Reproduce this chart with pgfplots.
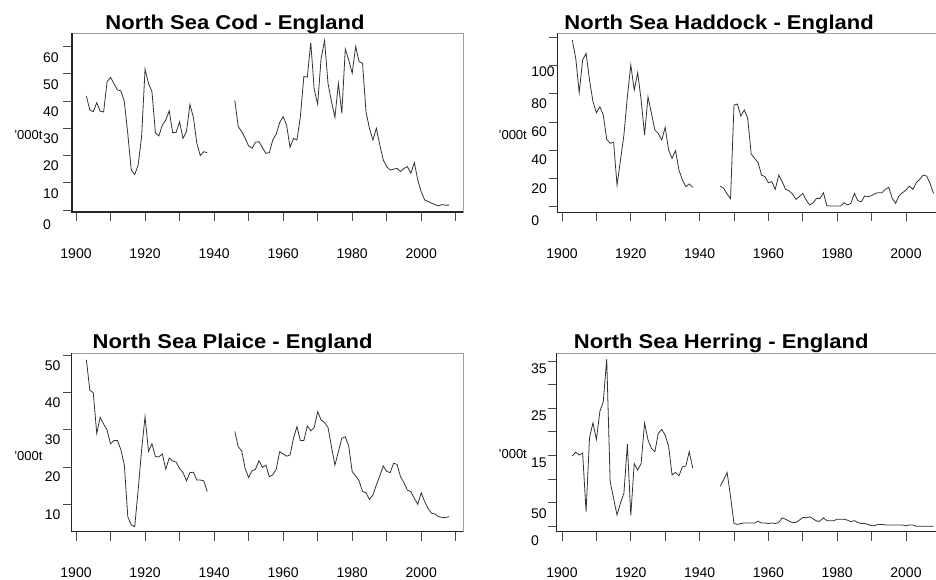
\documentclass[border=0pt]{standalone}
\usepackage{fontspec}
\setmainfont{Liberation Sans}
\usepackage{graphicx}
\usepackage{pgfplots}
\pgfplotsset{compat=1.18}

\newcommand\tickfont{\fontsize{14bp}{16bp}\selectfont}
\newcommand\unitfont{\fontsize{13bp}{15bp}\selectfont}
\newcommand\titlefont{\fontsize{20bp}{24bp}\selectfont\bfseries}

\pgfplotsset{
  fishpanel/.style={
    scale only axis, clip=false,
    axis line style={draw=gray!75, line width=0.8bp},
    tick pos=left, tick align=outside,
    major tick length=9bp,
    tick style={draw=gray!60!black, line width=0.8bp},
    xtick={1900,1910,...,2010},
    xticklabels={1900,,1920,,1940,,1960,,1980,,2000,},
    xticklabel style={anchor=base, inner sep=0pt, yshift=-37bp, font=\tickfont},
    yticklabel style={anchor=base west, inner sep=0pt, font=\tickfont},
    title style={font=\titlefont, anchor=base, inner sep=0pt},
    ylabel={'000t},
    ylabel style={rotate=-90, anchor=west, inner sep=0pt, font=\unitfont},
  },
  catch/.style={draw=black!80, line width=0.8bp, mark=none},
}
\tikzset{axframe/.style={black!85, line width=1.1bp}}

\begin{document}
\begin{tikzpicture}

% North Sea Cod
\begin{axis}[fishpanel,
  at={(72bp,-212bp)}, anchor=south west,
  width=391bp, height=179bp,
  xmin=1898.84, xmax=2012.1, ymin=-0.73, ymax=65,
  ytick={0,10,...,60},
  yticklabels={\raisebox{-4bp}{0},10,20,30,40,50,60},
  yticklabel style={xshift=-20bp, yshift=-15.4bp},
  title={\scalebox{1.1}[1]{North Sea Cod - England}},
  title style={at={(axis description cs:0.417,1)}, yshift=-2bp},
  ylabel style={at={(axis description cs:-0.148,0.43)}},
]
\addplot[catch] coordinates {
(1903,41.9)(1904,36.7)(1905,36.1)(1906,39.4)(1907,36.3)(1908,36.0)(1909,47.1)
(1910,48.7)(1911,46.4)(1912,44.1)(1913,43.8)(1914,39.8)(1915,28.0)(1916,14.7)
(1917,13.0)(1918,16.5)(1919,26.9)(1920,51.7)(1921,46.5)(1922,43.5)(1923,28.4)
(1924,27.2)(1925,31.2)(1926,33.0)(1927,36.4)(1928,28.4)(1929,28.5)(1930,32.4)
(1931,26.3)(1932,28.8)(1933,38.8)(1934,34.0)(1935,24.5)(1936,20.0)(1937,21.4)
(1938,21.1)
};
\addplot[catch] coordinates {
(1946,40.2)(1947,30.6)(1948,28.8)(1949,26.3)(1950,23.5)(1951,22.7)(1952,24.9)
(1953,25.1)(1954,22.9)(1955,20.8)(1956,21.1)(1957,25.7)(1958,27.9)(1959,32.1)
(1960,34.3)(1961,31.2)(1962,23.0)(1963,26.3)(1964,25.7)(1965,34.3)(1966,49.0)
(1967,48.8)(1968,61.5)(1969,44.3)(1970,38.9)(1971,55.7)(1972,62.2)(1973,46.5)
(1974,39.8)(1975,34.0)(1976,46.5)(1977,35.5)(1978,59.1)(1979,55.1)(1980,50.2)
(1981,60.0)(1982,54.5)(1983,53.9)(1984,36.1)(1985,30.0)(1986,25.7)(1987,30.0)
(1988,23.9)(1989,18.4)(1990,15.9)(1991,14.7)(1992,15.0)(1993,15.3)(1994,14.1)
(1995,15.3)(1996,15.9)(1997,13.5)(1998,17.4)(1999,11.0)(2000,6.7)(2001,3.7)
(2002,3.1)(2003,2.5)(2004,2.0)(2005,1.5)(2006,2.0)(2007,1.8)(2008,1.8)
};
\draw[axframe] (rel axis cs:0,1) -- (rel axis cs:0,0) -- (rel axis cs:1,0);
\end{axis}

% North Sea Haddock
\begin{axis}[fishpanel,
  at={(557.7bp,-212.3bp)}, anchor=south west,
  width=389.9bp, height=179bp,
  xmin=1898.75, xmax=2012.1, ymin=-3.97, ymax=122.8,
  ytick={0,20,...,120},
  yticklabels={\raisebox{-4.5bp}{0},20,40,60,80,\raisebox{3.6bp}{100},},
  yticklabel style={xshift=-17.5bp, yshift=-14.6bp},
  title={\scalebox{1.1}[1]{North Sea Haddock - England}},
  title style={at={(axis description cs:0.414,1)}, yshift=-1.7bp},
  ylabel style={at={(axis description cs:-0.152,0.432)}},
]
\addplot[catch] coordinates {
(1903,118)(1904,105)(1905,80.8)(1906,103.9)(1907,108.6)(1908,89.7)(1909,74.4)
(1910,66.6)(1911,70.8)(1912,64.9)(1913,47.7)(1914,44.9)(1915,45.6)(1916,15.3)
(1917,33.0)(1918,50.8)(1919,77.9)(1920,100.4)(1921,82.6)(1922,94.9)(1923,75.6)
(1924,50.8)(1925,77.9)(1926,66.1)(1927,54.3)(1928,51.9)(1929,47.2)(1930,56.2)
(1931,40.1)(1932,34.2)(1933,39.7)(1934,26.0)(1935,18.9)(1936,14.2)(1937,16.1)
(1938,13.7)
};
\addplot[catch] coordinates {
(1946,14.6)(1947,13.0)(1948,9.0)(1949,5.7)(1950,72.0)(1951,72.7)(1952,64.2)
(1953,68.5)(1954,62.6)(1955,37.3)(1956,34.2)(1957,31.4)(1958,22.4)(1959,21.3)
(1960,17.0)(1961,17.7)(1962,12.3)(1963,22.4)(1964,17.7)(1965,12.3)(1966,11.3)
(1967,9.0)(1968,5.2)(1969,7.1)(1970,9.4)(1971,4.7)(1972,1.2)(1973,2.8)
(1974,5.9)(1975,5.9)(1976,9.9)(1977,0.7)(1978,0.5)(1979,0.5)(1980,0.5)
(1981,0.5)(1982,2.8)(1983,1.2)(1984,2.4)(1985,9.4)(1986,4.3)(1987,3.5)
(1988,7.6)(1989,7.1)(1990,7.8)(1991,9.4)(1992,9.9)(1993,9.9)(1994,12.3)
(1995,13.7)(1996,5.9)(1997,2.4)(1998,7.8)(1999,9.9)(2000,11.8)(2001,14.6)
(2002,12.3)(2003,17.0)(2004,19.4)(2005,22.4)(2006,21.7)(2007,16.5)(2008,9.4)
};
\draw[axframe] (rel axis cs:0,1) -- (rel axis cs:0,0) -- (rel axis cs:1,0);
\end{axis}

% North Sea Plaice
\begin{axis}[fishpanel,
  at={(71.7bp,-531.7bp)}, anchor=south west,
  width=391.6bp, height=178.4bp,
  xmin=1898.75, xmax=2012.19, ymin=2.66, ymax=50.46,
  ytick={10,20,...,50},
  yticklabels={10,20,30,40,50},
  yticklabel style={xshift=-18bp, yshift=-15bp},
  title={\scalebox{1.1}[1]{North Sea Plaice - England}},
  title style={at={(axis description cs:0.411,1)}, yshift=-1bp},
  ylabel style={at={(axis description cs:-0.147,0.426)}},
]
\addplot[catch] coordinates {
(1903,48.7)(1904,40.6)(1905,39.9)(1906,29.0)(1907,33.3)(1908,31.5)(1909,29.9)
(1910,26.2)(1911,27.1)(1912,27.1)(1913,24.6)(1914,20.5)(1915,6.7)(1916,4.5)
(1917,4.0)(1918,13.8)(1919,24.6)(1920,33.5)(1921,24.2)(1922,26.2)(1923,22.8)
(1924,22.7)(1925,23.5)(1926,19.4)(1927,22.4)(1928,21.6)(1929,21.3)(1930,19.6)
(1931,18.5)(1932,16.3)(1933,18.5)(1934,18.6)(1935,16.5)(1936,16.5)(1937,16.3)
(1938,13.4)
};
\addplot[catch] coordinates {
(1946,29.5)(1947,25.4)(1948,24.3)(1949,19.6)(1950,17.2)(1951,19.0)(1952,19.4)
(1953,21.7)(1954,19.9)(1955,20.5)(1956,17.4)(1957,17.9)(1958,19.4)(1959,24.1)
(1960,23.5)(1961,22.9)(1962,23.2)(1963,27.7)(1964,30.8)(1965,27.1)(1966,27.1)
(1967,31.0)(1968,29.7)(1969,30.6)(1970,34.8)(1971,32.6)(1972,31.9)(1973,30.6)
(1974,25.4)(1975,20.5)(1976,24.1)(1977,27.7)(1978,28.1)(1979,25.6)(1980,18.8)
(1981,17.6)(1982,16.3)(1983,13.4)(1984,13.1)(1985,11.3)(1986,12.5)(1987,15.2)
(1988,17.6)(1989,20.3)(1990,18.8)(1991,18.5)(1992,21.0)(1993,20.7)(1994,17.4)
(1995,15.8)(1996,13.8)(1997,13.4)(1998,11.6)(1999,10.0)(2000,13.1)(2001,10.7)
(2002,8.9)(2003,7.6)(2004,7.4)(2005,6.7)(2006,6.5)(2007,6.4)(2008,6.7)
};
\draw[axframe] (rel axis cs:0,1) -- (rel axis cs:0,0) -- (rel axis cs:1,0);
\end{axis}

% North Sea Herring
\begin{axis}[fishpanel,
  at={(556.7bp,-531.7bp)}, anchor=south west,
  width=390.9bp, height=178.4bp,
  xmin=1898.46, xmax=2012.1, ymin=-1.14, ymax=36.63,
  ytick={0,5,...,35},
  yticklabels={\raisebox{-7.4bp}{0},\raisebox{-3.4bp}{50},,15,,25,,35},
  yticklabel style={xshift=-16.7bp, yshift=-12bp},
  title={\scalebox{1.1}[1]{North Sea Herring - England}},
  title style={at={(axis description cs:0.421,1)}, yshift=-1bp},
  ylabel style={at={(axis description cs:-0.149,0.436)}},
]
\addplot[catch] coordinates {
(1903,14.9)(1904,15.7)(1905,15.1)(1906,15.5)(1907,3.1)(1908,18.8)(1909,21.9)
(1910,18.4)(1911,24.3)(1912,26.4)(1913,35.4)(1914,9.5)(1915,5.9)(1916,2.4)
(1917,4.9)(1918,7.0)(1919,17.4)(1920,2.3)(1921,13.3)(1922,11.9)(1923,13.3)
(1924,21.9)(1925,18.3)(1926,16.5)(1927,15.8)(1928,19.7)(1929,20.5)(1930,19.3)
(1931,16.9)(1932,10.9)(1933,11.4)(1934,10.7)(1935,12.6)(1936,12.8)(1937,15.8)
(1938,12.3)
};
\addplot[catch] coordinates {
(1946,8.5)(1947,9.9)(1948,11.4)(1949,6.3)(1950,0.6)(1951,0.4)(1952,0.6)
(1953,0.7)(1954,0.7)(1955,0.7)(1956,0.7)(1957,1.1)(1958,0.7)(1959,0.7)
(1960,0.6)(1961,0.7)(1962,0.6)(1963,0.8)(1964,1.8)(1965,1.5)(1966,1.1)
(1967,0.8)(1968,0.8)(1969,1.3)(1970,1.9)(1971,1.8)(1972,2.0)(1973,1.6)
(1974,1.1)(1975,1.1)(1976,1.8)(1977,1.2)(1978,1.2)(1979,1.2)(1980,1.5)
(1981,1.5)(1982,1.5)(1983,1.3)(1984,1.0)(1985,1.2)(1986,0.8)(1987,0.6)
(1988,0.6)(1989,0.4)(1990,0.1)(1991,0.2)(1992,0.4)(1993,0.4)(1994,0.3)
(1995,0.3)(1996,0.3)(1997,0.3)(1998,0.3)(1999,0.3)(2000,0.1)(2001,0.3)
(2002,0.3)(2003,0.0)(2004,0.0)(2005,0.0)(2006,0.0)(2007,0.0)(2008,0.0)
};
\draw[axframe] (rel axis cs:0,1) -- (rel axis cs:0,0) -- (rel axis cs:1,0);
\end{axis}

\pgfresetboundingbox
\path[use as bounding box] (0,0) rectangle (936bp,-580bp);
\end{tikzpicture}
\end{document}
